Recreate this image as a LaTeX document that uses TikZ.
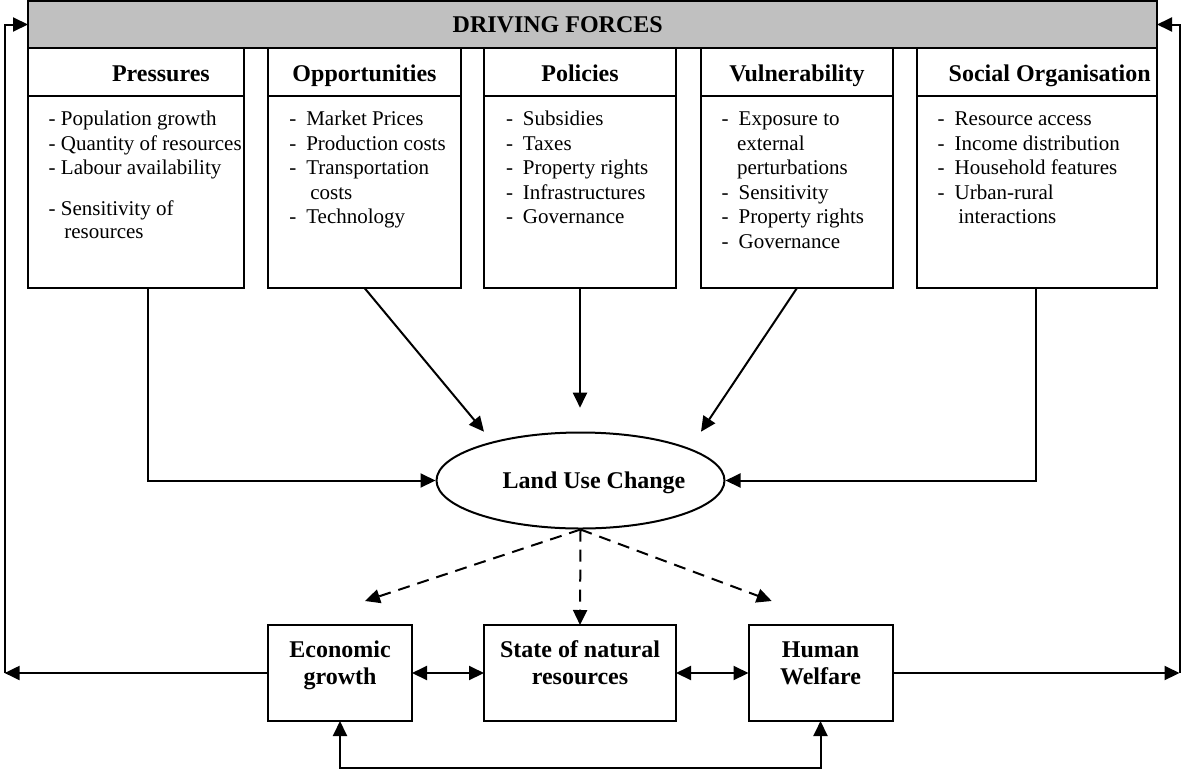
\documentclass[tikz,border=0pt]{standalone}
\usepackage{fontspec}
\setmainfont{Liberation Serif}
\usetikzlibrary{arrows.meta,shapes.geometric,calc}
\definecolor{barfill}{RGB}{192,192,192}
\newcommand\dashitem[1]{\makebox[8.5pt][l]{-}#1}
\begin{document}
\begin{tikzpicture}[x=0.5pt,y=-0.5pt,
  line width=1pt,
  box/.style={draw, rectangle, inner sep=0pt, outer sep=0pt},
  head/.style={font=\fontsize{12pt}{13.5pt}\selectfont\bfseries, inner sep=0pt, anchor=base},
  item/.style={font=\fontsize{10.5pt}{12.5pt}\selectfont, inner sep=0pt, anchor=base west},
  arr/.style={-{Triangle[length=7.5pt,width=7pt]}},
  dbl/.style={{Triangle[length=7.5pt,width=7pt]}-{Triangle[length=7.5pt,width=7pt]}},
  dashedarr/.style={arr, dash pattern=on 6pt off 4pt},
]
\useasboundingbox (0,0) rectangle (1181,771);

% banner across the top
\node[box, fill=barfill, minimum width=564.5pt, minimum height=23.5pt] (bar) at (592.5,24.5) {};
\node[head, anchor=base west] (bar-t) at (451.7,32.5) {DRIVING FORCES};

% the five driving-force columns: header and body
\node[box, minimum width=108pt, minimum height=24pt] (prh) at (136,72) {};
\node[box, minimum width=108pt, minimum height=96pt] (prb) at (136,192) {};
\node[box, minimum width=96.5pt, minimum height=24pt] (oph) at (364.5,72) {};
\node[box, minimum width=96.5pt, minimum height=96pt] (opb) at (364.5,192) {};
\node[box, minimum width=96pt, minimum height=24pt] (plh) at (580,72) {};
\node[box, minimum width=96pt, minimum height=96pt] (plb) at (580,192) {};
\node[box, minimum width=96pt, minimum height=24pt] (vuh) at (797,72) {};
\node[box, minimum width=96pt, minimum height=96pt] (vub) at (797,192) {};
\node[box, minimum width=120pt, minimum height=24pt] (soh) at (1037,72) {};
\node[box, minimum width=120pt, minimum height=96pt] (sob) at (1037,192) {};

\node[head, anchor=base west] (prh-t) at (111,81) {Pressures};
\node[head] (oph-t) at (364.5,81) {Opportunities};
\node[head] (plh-t) at (580,81) {Policies};
\node[head] (vuh-t) at (797,81) {Vulnerability};
\node[head, anchor=base west] (soh-t) at (947.7,81) {Social Organisation};

% column contents
\foreach \yy/\xx/\txt [count=\k] in {125/47.7/{- Population growth}, 150/47.7/{- Quantity of resources}, 174/47.7/{- Labour availability}, 215/47.7/{- Sensitivity of}, 238.3/63.3/{resources}}
  \node[item] (prs-\k) at (\xx,\yy) {\txt};
\foreach \yy/\xx/\txt [count=\k] in {125/288.3/{\dashitem{Market Prices}}, 150/288.3/{\dashitem{Production costs}}, 174/288.3/{\dashitem{Transportation}}, 199/309.3/{costs}, 223/288.3/{\dashitem{Technology}}}
  \node[item] (opp-\k) at (\xx,\yy) {\txt};
\foreach \yy/\xx/\txt [count=\k] in {125/505/{\dashitem{Subsidies}}, 150/505/{\dashitem{Taxes}}, 174/505/{\dashitem{Property rights}}, 199/505/{\dashitem{Infrastructures}}, 223/505/{\dashitem{Governance}}}
  \node[item] (pol-\k) at (\xx,\yy) {\txt};
\foreach \yy/\xx/\txt [count=\k] in {125/720.7/{\dashitem{Exposure to}}, 150/736/{external}, 174/736/{perturbations}, 199/720.7/{\dashitem{Sensitivity}}, 223/720.7/{\dashitem{Property rights}}, 248/720.7/{\dashitem{Governance}}}
  \node[item] (vul-\k) at (\xx,\yy) {\txt};
\foreach \yy/\xx/\txt [count=\k] in {125/936.7/{\dashitem{Resource access}}, 150/936.7/{\dashitem{Income distribution}}, 174/936.7/{\dashitem{Household features}}, 199/936.7/{\dashitem{Urban-rural}}, 223/957.3/{interactions}}
  \node[item] (soc-\k) at (\xx,\yy) {\txt};

% central ellipse
\node[draw, ellipse, minimum width=144pt, minimum height=48pt, inner sep=0pt] (luc) at (580.5,480.5) {};
\node[head, anchor=base west] (luc-t) at (501.7,488.3) {Land Use Change};

% outcome boxes (two-line labels sit on the baseline of their last line)
\node[box, minimum width=72pt, minimum height=48pt] (econ) at (340,673) {};
\node[box, minimum width=96pt, minimum height=48pt] (state) at (580,673) {};
\node[box, minimum width=72pt, minimum height=48pt] (human) at (820.5,673) {};
\node[head, align=center] (econ-t) at (340,684) {Economic\\growth};
\node[head, align=center] (state-t) at (580,684) {State of natural\\resources};
\node[head, align=center] (human-t) at (820.5,684) {Human\\Welfare};

% free ends of the connectors
\coordinate (opp-tip) at (484,431.7);
\coordinate (pol-tip) at (580,407.7);
\coordinate (vul-tip) at (701,431.7);
\coordinate (ltip) at (365,601);
\coordinate (rtip) at (771.7,601);
\coordinate (lb) at (4.6,673);
\coordinate (rb) at (1179.5,673);
\coordinate (loop) at (580,768);

% driving forces into land use change
\draw[arr] ([xshift=6pt]prb.south) |- (luc.west);
\draw[arr] (opb.south) -- (opp-tip);
\draw[arr] (plb.south) -- (pol-tip);
\draw[arr] (vub.south) -- (vul-tip);
\draw[arr] ([xshift=-0.5pt]sob.south) |- (luc.east);

% effects of land use change
\draw[dashedarr] (luc.south) -- (ltip);
\draw[dashedarr] (luc.south) -- (state.north);
\draw[dashedarr] (luc.south) -- (rtip);

% links between outcomes
\draw[dbl] (econ.east) -- (state.west);
\draw[dbl] (state.east) -- (human.west);
\draw[dbl] (econ.south) |- (loop) -| (human.south);

% feedback to the driving forces
\draw[arr] (econ.west) -- (lb);
\draw[arr] (lb) |- (bar.west);
\draw[arr] (human.east) -- (rb);
\draw[arr] (rb) |- (bar.east);
\end{tikzpicture}
\end{document}
